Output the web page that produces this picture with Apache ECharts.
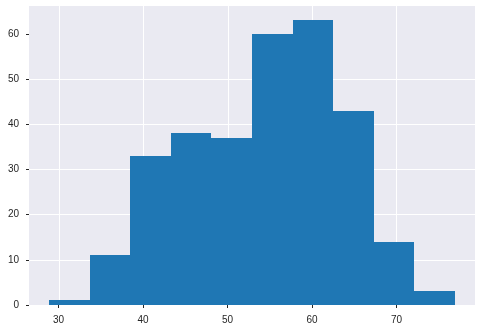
<!DOCTYPE html>
<html>
<head>
<meta charset="utf-8">
<script src="https://cdn.jsdelivr.net/npm/echarts@6/dist/echarts.min.js"></script>
<style>
html,body{margin:0;padding:0;background:#fff;}
#c{width:482px;height:332px;}
</style>
</head>
<body>
<div id="c"></div>
<script>
// Histogram bin edges and counts
const binEdges = [28.9, 33.7, 38.5, 43.3, 48.1, 52.9, 57.7, 62.5, 67.3, 72.1, 76.9];
const counts = [1, 11, 33, 38, 37, 60, 63, 43, 14, 3];
const xTicks = [30, 40, 50, 60, 70];
const yTicks = [0, 10, 20, 30, 40, 50, 60];

const barData = counts.map((c, i) => [binEdges[i], binEdges[i + 1], c]);

const chart = echarts.init(document.getElementById('c'), null, {renderer: 'canvas'});
const textColor = '#262626';
const font = 'Liberation Sans, Arial, sans-serif';

chart.setOption({
  animation: false,
  backgroundColor: '#ffffff',
  grid: {
    left: 29, right: 7, top: 6, bottom: 27,
    show: true, backgroundColor: '#EAEAF2', borderWidth: 0
  },
  xAxis: {
    type: 'value',
    min: 26.5, max: 79.3,
    axisLine: {show: false},
    axisTick: {show: true, length: 3, customValues: xTicks, lineStyle: {color: textColor, width: 1}},
    axisLabel: {customValues: xTicks, color: textColor, fontSize: 10, fontFamily: font, margin: 10},
    splitLine: {show: false}
  },
  yAxis: {
    type: 'value',
    min: 0, max: 66.15,
    interval: 10,
    axisLine: {show: false},
    axisTick: {show: true, length: 3, customValues: yTicks, lineStyle: {color: textColor, width: 1}},
    axisLabel: {customValues: yTicks, color: textColor, fontSize: 10, fontFamily: font, margin: 10},
    splitLine: {show: true, showMinLine: false, showMaxLine: false, lineStyle: {color: '#ffffff', width: 1}}
  },
  series: [{
    type: 'custom',
    z: 1,
    silent: true,
    data: xTicks.map(v => [v]),
    encode: {x: 0},
    renderItem: function (params, api) {
      const cs = params.coordSys;
      const x = Math.round(api.coord([api.value(0), 0])[0]) + 0.5;
      return {
        type: 'line',
        shape: {x1: x, y1: cs.y, x2: x, y2: cs.y + cs.height},
        style: {stroke: '#ffffff', lineWidth: 1}
      };
    }
  }, {
    type: 'custom',
    z: 2,
    data: barData,
    encode: {x: [0, 1], y: 2},
    renderItem: function (params, api) {
      const p0 = api.coord([api.value(0), api.value(2)]);
      const p1 = api.coord([api.value(1), 0]);
      const x0 = Math.round(p0[0]), x1 = Math.round(p1[0]);
      const y0 = Math.round(p0[1]), y1 = Math.round(p1[1]);
      return {
        type: 'rect',
        shape: {x: x0, y: y0, width: x1 - x0, height: y1 - y0},
        style: {fill: '#1f77b4'}
      };
    }
  }]
});
</script>
</body>
</html>
